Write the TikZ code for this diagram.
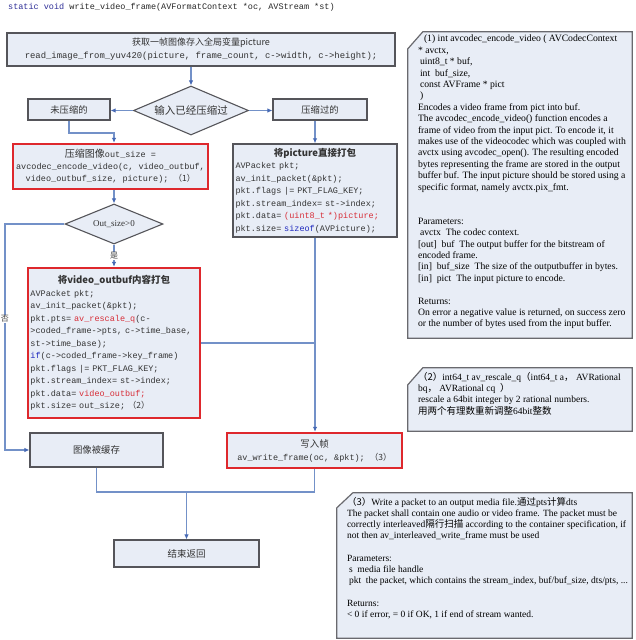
\documentclass[tikz,border=0pt]{standalone}
\usepackage{fontspec}
\setmainfont{Liberation Serif}
\setmonofont{Liberation Mono}
\newfontfamily\cjk{Noto Sans CJK SC}
\usetikzlibrary{shapes.geometric,arrows.meta,backgrounds}
\definecolor{boxfill}{RGB}{232,237,246}
\definecolor{boxgray}{RGB}{85,85,90}
\definecolor{hotred}{RGB}{222,40,45}
\definecolor{linkblue}{RGB}{115,145,200}
\definecolor{tipblue}{RGB}{70,105,180}
\definecolor{codered}{RGB}{215,45,55}
\definecolor{codeblue}{RGB}{30,40,190}
\definecolor{sigblue}{RGB}{45,45,150}
\definecolor{notegray}{RGB}{105,105,110}
\newcommand{\redcode}[1]{\textcolor{codered}{#1}}
\newcommand{\keyword}[1]{\textcolor{codeblue}{#1}}
\newcommand{\boxtitle}[1]{\makebox[\linewidth]{\cjk\bfseries\fontsize{9.5}{12.5}\selectfont #1}}
\newcommand{\notelines}[3]{\begin{minipage}[c][#1][t]{#2}\begin{tabular}[t]{@{\hspace{5pt}}l@{}}#3\end{tabular}\end{minipage}}

\begin{document}
\begin{tikzpicture}[x=1pt, y=-1pt,
    plainbox/.style={rectangle, draw=boxgray, fill=boxfill, line width=1.1pt,
        inner sep=2pt, align=center, text=black!80},
    hotbox/.style={plainbox, draw=hotred, line width=2.4pt},
    decision/.style={diamond, draw=boxgray, fill=boxfill, line width=1.1pt,
        inner sep=1pt, aspect=2.3, text=black!80},
    codebox/.style={font=\ttfamily\fontsize{8.5}{12.5}\selectfont, align=left, inner xsep=2.5pt},
    cjkfont/.style={font=\cjk\fontsize{#1}{12}\selectfont},
    notebox/.style={rectangle, inner xsep=5pt, inner ysep=4pt, font=\fontsize{9.5}{11.2}\selectfont},
    noteframe/.style={draw=notegray, fill=boxfill, line width=1.2pt},
    arrow/.style={-{Latex[length=5pt, width=4.5pt, color=tipblue]}, draw=linkblue, line width=1.1pt},
    link/.style={draw=linkblue, line width=1.1pt},
    flag/.style={fill=white, inner sep=0.6pt, font=\cjk\fontsize{8}{9}\selectfont, text=black!75}
]
    \useasboundingbox (0,0) rectangle (635,640);

    % Signature
    \node[anchor=west, inner sep=0pt, font=\ttfamily\fontsize{8.5}{10}\selectfont, text=black!85] (signature) at (8,7)
        {\textcolor{sigblue}{static void} write\_video\_frame(AVFormatContext *oc, AVStream *st)};

    % Main flow
    \node[plainbox, minimum width=388pt, minimum height=33pt, font=\ttfamily\fontsize{8.9}{13}\selectfont] (readimg) at (201,49.5)
        {{\cjk\fontsize{9}{13}\selectfont 获取一帧图像存入全局变量picture}\\read\_image\_from\_yuv420(picture, frame\_count, c->width, c->height);};
    \node[decision, minimum width=115pt, minimum height=49pt, cjkfont=10.5] (iscoded) at (191,110.5) {输入已经压缩过};
    \node[plainbox, minimum width=82pt, minimum height=21pt, cjkfont=9.3] (uncoded) at (69,109.5) {未压缩的};
    \node[plainbox, minimum width=94pt, minimum height=21pt, cjkfont=9.3] (coded) at (320,109.5) {压缩过的};

    % Left column
    \node[hotbox, minimum width=195pt, minimum height=45pt, font=\ttfamily\fontsize{8.5}{12}\selectfont] (encode) at (110.5,166.5)
        {{\cjk\fontsize{10}{12}\selectfont 压缩图像}out\_size =\\avcodec\_encode\_video(c, video\_outbuf,\\video\_outbuf\_size, picture); {\cjk （1）}};
    \node[decision, minimum width=98pt, minimum height=40pt, font=\fontsize{9}{11}\selectfont] (outsize) at (114,224) {Out\_size>0};
    \node[hotbox, codebox, text width=167pt, minimum height=150pt] (pack) at (114,343)
        {\boxtitle{将video\_outbuf内容打包}\\
         AVPacket pkt;\\
         av\_init\_packet(\&pkt);\\
         pkt.pts= \redcode{av\_rescale\_q}(c-\\
         >coded\_frame->pts, c->time\_base,\\
         st->time\_base);\\
         \keyword{if}(c->coded\_frame->key\_frame)\\
         pkt.flags |= PKT\_FLAG\_KEY;\\
         pkt.stream\_index= st->index;\\
         pkt.data= \redcode{video\_outbuf;}\\
         pkt.size= out\_size; {\cjk （2）}};
    \node[plainbox, minimum width=133pt, minimum height=34pt, cjkfont=9.4] (buffered) at (96.5,450) {图像被缓存};

    % Right column
    \node[plainbox, codebox, text width=159pt, minimum height=93pt, line width=1.4pt] (direct) at (315,190.5)
        {\boxtitle{将picture直接打包}\\
         AVPacket pkt;\\
         av\_init\_packet(\&pkt);\\
         pkt.flags |= PKT\_FLAG\_KEY;\\
         pkt.stream\_index= st->index;\\
         pkt.data= \redcode{(uint8\_t *)picture;}\\
         pkt.size= \keyword{sizeof}(AVPicture);};
    \node[hotbox, minimum width=175pt, minimum height=35pt, font=\ttfamily\fontsize{8.5}{13}\selectfont] (writeframe) at (314.5,450.5)
        {{\cjk\fontsize{9.5}{13}\selectfont 写入帧}\\av\_write\_frame(oc, \&pkt); {\cjk （3）}};
    \node[plainbox, minimum width=145pt, minimum height=27pt, cjkfont=9.5] (finish) at (186.5,553.5) {结束返回};

    % Notes
    \node[notebox, inner ysep=2pt, font=\fontsize{9.7}{11.4}\selectfont] (encodenote) at (520,185) {\notelines{302pt}{214pt}{%
        \hspace{6pt}(1) int avcodec\_encode\_video\ (\ AVCodecContext\\
        {*}\ avctx,\\
        \hspace{2pt}uint8\_t * buf,\\
        \hspace{2pt}int\ \ buf\_size,\\
        \hspace{2pt}const AVFrame * pict\\
        \hspace{2pt})\\
        Encodes a video frame from pict into buf.\\
        The avcodec\_encode\_video() function encodes a\\
        frame of video from the input pict. To encode it, it\\
        makes use of the videocodec which was coupled with\\
        avctx using avcodec\_open(). The resulting encoded\\
        bytes representing the frame are stored in the output\\
        buffer buf. The input picture should be stored using a\\
        specific format, namely avctx.pix\_fmt.\\
        \\
        \\
        Parameters:\\
        \hspace{2pt}avctx\ \ The codec context.\\
        {[out]}\ \ buf\ \ The output buffer for the bitstream of\\
        encoded frame.\\
        {[in]}\ \ buf\_size\ \ The size of the outputbuffer in bytes.\\
        {[in]}\ \ pict\ \ The input picture to encode.\\
        \\
        Returns:\\
        On error a negative value is returned, on success zero\\
        or the number of bytes used from the input buffer.}};
    \node[notebox] (rescalenote) at (520,399.5) {\notelines{55pt}{214pt}{%
        {\cjk （2）}int64\_t av\_rescale\_q{\cjk （}int64\_t a{\cjk ，}\ AVRational\\
        bq{\cjk ，}\ AVRational cq\ \ {\cjk ）}\\
        rescale a 64bit integer by 2 rational numbers.\\
        {\cjk 用两个有理数重新调整}64bit{\cjk 整数}}};
    \node[notebox] (writenote) at (484.5,565.5) {\notelines{137pt}{285pt}{%
        {\cjk （3）}Write a packet to an output media file.{\cjk 通过}pts{\cjk 计算}dts\\
        The packet shall contain one audio or video frame. The packet must be\\
        correctly interleaved{\cjk 隔行扫描} according to the container specification, if\\
        not then av\_interleaved\_write\_frame must be used\\
        \\
        Parameters:\\
        \hspace{2pt}s\ \ media file handle\\
        \hspace{2pt}pkt\ \ the packet, which contains the stream\_index, buf/buf\_size, dts/pts, ...\\
        \\
        Returns:\\
        < 0 if error, = 0 if OK, 1 if end of stream wanted.}};

    % Note frames with cut corner
    \begin{scope}[on background layer]
        \filldraw[noteframe] ([yshift=-17pt]encodenote.north west) -- ([xshift=15pt]encodenote.north west)
            -- (encodenote.north east) -- (encodenote.south east) -- (encodenote.south west) -- cycle;
        \filldraw[noteframe] ([yshift=-17pt]rescalenote.north west) -- ([xshift=15pt]rescalenote.north west)
            -- (rescalenote.north east) -- (rescalenote.south east) -- (rescalenote.south west) -- cycle;
        \filldraw[noteframe] ([yshift=-15pt]writenote.north west) -- ([xshift=16pt]writenote.north west)
            -- (writenote.north east) -- (writenote.south east) -- (writenote.south west) -- cycle;
    \end{scope}

    % Connectors
    \draw[arrow] (readimg.south -| iscoded.north) -- (iscoded.north);
    \draw[arrow] (iscoded.west) -- (iscoded.west -| uncoded.east);
    \draw[arrow] (iscoded.east) -- (iscoded.east -| coded.west);
    \coordinate (leftbend) at (114,133);
    \draw[arrow] (uncoded.south) |- (leftbend) -- (encode.north -| leftbend);
    \draw[arrow] (coded.south -| direct.north) -- (direct.north);
    \draw[arrow] (encode.south -| outsize.north) -- (outsize.north);
    \draw[arrow] (outsize.south) -- node[flag] {是} (pack.north);
    \coordinate (nocorner) at (5,224);
    \draw[arrow] (outsize.west) -- (nocorner) |- node[flag, pos=0.21] {否} (buffered.west);
    \draw[arrow] (direct.south) -- (direct.south |- writeframe.north);
    \draw[link] (pack.east) -- (pack.east -| direct.south);
    \coordinate (merge) at (186.5,492);
    \draw[link] (buffered.south) |- (merge) -| (writeframe.south);
    \draw[arrow] (merge) -- (finish.north);
\end{tikzpicture}
\end{document}
